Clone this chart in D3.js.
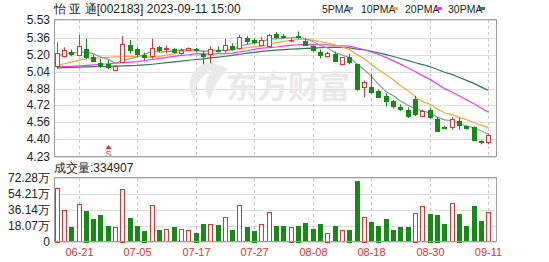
<!DOCTYPE html>
<html>
<head>
<meta charset="utf-8">
<script src="https://cdn.jsdelivr.net/npm/d3@7/dist/d3.min.js"></script>
<style>
body{margin:0;background:#fff}
svg{display:block}
text{font-family:"Liberation Sans",Arial,sans-serif}
</style>
</head>
<body>
<svg id="chart" width="549" height="262"></svg>
<script>
// trading days shown
const dates = ["06-16","06-19","06-20","06-21","06-26","06-27","06-28","06-29","06-30","07-03",
  "07-04","07-05","07-06","07-07","07-10","07-11","07-12","07-13","07-14","07-17",
  "07-18","07-19","07-20","07-21","07-24","07-25","07-26","07-27","07-28","07-31",
  "08-01","08-02","08-03","08-04","08-07","08-08","08-09","08-10","08-11","08-14",
  "08-15","08-16","08-17","08-18","08-21","08-22","08-23","08-24","08-25","08-28",
  "08-29","08-30","08-31","09-01","09-04","09-05","09-06","09-07","09-08","09-11"]

const open = [5.10,5.19,5.222,5.197,5.254,5.175,5.118,5.109,5.059,5.128,
  5.29,5.254,5.197,5.184,5.275,5.25,5.254,5.213,5.24,5.254,
  5.207,5.207,5.25,5.238,5.285,5.27,5.357,5.34,5.295,5.285,
  5.40,5.375,5.34,5.375,5.33,5.285,5.222,5.188,5.207,5.11,
  5.181,5.11,4.892,4.892,4.86,4.81,4.757,4.705,4.679,4.78,
  4.625,4.679,4.594,4.515,4.515,4.572,4.52,4.51,4.38,4.374]
const high = [5.316,5.27,5.25,5.39,5.35,5.20,5.16,5.15,5.10,5.38,
  5.34,5.27,5.22,5.354,5.285,5.29,5.265,5.26,5.27,5.265,
  5.24,5.28,5.28,5.35,5.31,5.39,5.38,5.36,5.37,5.40,
  5.415,5.40,5.36,5.42,5.35,5.29,5.25,5.23,5.23,5.18,
  5.21,5.11,4.955,5.02,4.87,4.836,4.77,4.73,4.70,4.81,
  4.68,4.70,4.61,4.525,4.61,4.60,4.53,4.52,4.39,4.453]
const low = [5.066,5.175,5.185,5.197,5.16,5.13,5.075,5.06,5.055,5.12,
  5.21,5.18,5.15,5.165,5.225,5.215,5.21,5.20,5.235,5.225,
  5.11,5.12,5.22,5.22,5.24,5.25,5.30,5.30,5.28,5.27,
  5.35,5.35,5.32,5.35,5.285,5.23,5.165,5.175,5.135,5.10,
  5.11,4.86,4.80,4.83,4.79,4.71,4.69,4.665,4.60,4.616,
  4.61,4.59,4.47,4.495,4.49,4.49,4.49,4.38,4.35,4.35]
const close = [5.22,5.245,5.20,5.285,5.175,5.137,5.103,5.08,5.097,5.30,
  5.238,5.207,5.175,5.263,5.244,5.26,5.228,5.245,5.26,5.24,
  5.188,5.254,5.245,5.29,5.254,5.373,5.326,5.323,5.34,5.386,
  5.373,5.37,5.34,5.37,5.295,5.245,5.19,5.219,5.144,5.175,
  5.137,4.877,4.94,4.845,4.80,4.767,4.71,4.688,4.625,4.64,
  4.67,4.61,4.484,4.51,4.594,4.531,4.50,4.39,4.368,4.437]

// volume in 万 shares, and its colour (1 = red)
const volume = [61.4,35.7,16.1,42.5,34.9,25.2,29.7,17.6,16.1,60.3,
  26.3,17.6,12.2,41.0,13.0,13.8,16.1,13.8,13.0,10.0,
  19.8,19.8,18.7,27.4,13.0,41.0,16.1,12.2,19.8,33.4,
  17.6,17.6,16.8,17.9,21.0,14.2,19.8,10.0,17.6,13.0,
  13.4,68.5,28.1,22.1,17.9,25.2,13.0,16.1,16.1,32.6,
  39.9,31.5,30.4,19.8,43.3,31.5,17.6,40.2,23.2,33.49]
const volUp = [1,1,0,1,0,0,0,0,1,1, 0,0,0,1,0,1,0,1,1,0, 0,1,0,1,0,1,0,0,1,1,
  0,0,1,0,0,0,0,1,0,1, 0,0,1,0,0,0,0,0,0,1, 1,0,0,0,1,0,0,0,0,1]

const ma5 = [5.19,5.21,5.215,5.225,5.225,5.208,5.18,5.156,5.118,5.143,
  5.164,5.184,5.203,5.237,5.225,5.23,5.234,5.248,5.247,5.247,
  5.232,5.237,5.237,5.243,5.246,5.283,5.298,5.313,5.323,5.35,
  5.35,5.358,5.362,5.368,5.35,5.324,5.288,5.264,5.219,5.195,
  5.173,5.11,5.055,4.995,4.92,4.846,4.812,4.762,4.718,4.686,
  4.667,4.647,4.606,4.583,4.574,4.546,4.524,4.505,4.477,4.445]
const ma10 = [5.10,5.115,5.13,5.15,5.16,5.165,5.17,5.175,5.18,5.184,
  5.186,5.182,5.18,5.178,5.184,5.197,5.209,5.226,5.242,5.236,
  5.231,5.236,5.243,5.245,5.246,5.258,5.268,5.275,5.283,5.298,
  5.316,5.328,5.338,5.346,5.35,5.337,5.323,5.313,5.293,5.272,
  5.249,5.199,5.159,5.107,5.057,5.009,4.961,4.908,4.856,4.803,
  4.756,4.73,4.684,4.65,4.63,4.606,4.585,4.555,4.53,4.509]
const ma20 = [5.085,5.088,5.09,5.095,5.10,5.105,5.11,5.115,5.12,5.125,
  5.13,5.135,5.145,5.155,5.165,5.175,5.185,5.195,5.20,5.21,
  5.209,5.209,5.211,5.211,5.215,5.227,5.238,5.251,5.263,5.267,
  5.274,5.282,5.29,5.295,5.298,5.297,5.295,5.294,5.288,5.285,
  5.282,5.264,5.248,5.226,5.203,5.173,5.142,5.111,5.075,5.038,
  5.002,4.964,4.922,4.879,4.844,4.808,4.773,4.732,4.693,4.656]
const ma30 = [5.075,5.078,5.08,5.083,5.085,5.087,5.089,5.09,5.092,5.095,
  5.098,5.10,5.105,5.11,5.117,5.125,5.133,5.14,5.148,5.155,
  5.162,5.17,5.178,5.186,5.195,5.205,5.215,5.223,5.232,5.239,
  5.245,5.249,5.253,5.256,5.26,5.264,5.267,5.271,5.273,5.269,
  5.265,5.254,5.246,5.233,5.218,5.201,5.184,5.165,5.144,5.124,
  5.107,5.086,5.06,5.034,5.012,4.984,4.957,4.926,4.893,4.861]

const priceTicks = ["5.53","5.36","5.20","5.04","4.88","4.72","4.56","4.40","4.23"]
const volTicks = [0,18.07,36.14,54.21,72.28]
const dateTicks = ["06-21","07-05","07-17","07-27","08-08","08-18","08-30","09-11"]
const maNames = ["5PMA","10PMA","20PMA","30PMA"]

const red = '#e4312b', green = '#158a15', grid = '#dedede'
const maColors = ['#9494ac','#f2a93b','#f23af2','#2f7a4f']
const left = 54, right = 496

const svg = d3.select('#chart')

const x = d3.scaleBand().domain(dates).range([left, 490.8]).paddingInner(0.3)
const cx = d => Math.round(x(d) + x.bandwidth()/2) + 0.5
const y = d3.scaleLinear().domain([4.23,5.53]).range([157,20])
const yv = d3.scaleLinear().domain([0,72.28]).range([241.5,178])

const data = dates.map((d,i) => ({date:d, o:open[i], h:high[i], l:low[i], c:close[i], v:volume[i], vu:volUp[i]}))

// title and legend
svg.append('text')
  .attr('x',left).attr('y',13)
  .attr('fill','#222')
  .style('font-size','12px')
  .text('怡 亚 通[002183] 2023-09-11 15:00')

const legendX = [322,361,405,448]
const legend = svg.selectAll('g.legend')
  .data(maNames)
  .enter()
  .append('g')
  .attr('class','legend')
legend.append('text')
  .attr('x',(d,i) => legendX[i]).attr('y',13)
  .attr('fill','#222')
  .style('font-size','10.5px')
  .text(d => d)
legend.append('rect')
  .attr('x',(d,i) => legendX[i] + (i ? 31 : 25)).attr('y',7)
  .attr('width',6).attr('height',3)
  .attr('fill',(d,i) => maColors[i])

// price panel grid
svg.selectAll('line.hgrid')
  .data(priceTicks)
  .enter()
  .append('line')
  .attr('class','hgrid')
  .attr('x1',left).attr('x2',right)
  .attr('y1',d => Math.round(y(+d))+0.5).attr('y2',d => Math.round(y(+d))+0.5)
  .attr('stroke',grid)

svg.selectAll('line.vgrid')
  .data(dateTicks)
  .enter()
  .append('line')
  .attr('class','vgrid')
  .attr('x1',cx).attr('x2',cx)
  .attr('y1',20).attr('y2',157)
  .attr('stroke','#c8c8c8')
  .attr('stroke-dasharray','3,3')

svg.selectAll('text.ptick')
  .data(priceTicks)
  .enter()
  .append('text')
  .attr('class','ptick')
  .attr('x',50).attr('y',d => y(+d)+4)
  .attr('text-anchor','end')
  .attr('fill','#222')
  .style('font-size','12px')
  .text(d => d)

// watermark
const wm = svg.append('g').attr('fill','#e9e9e9')
wm.append('path')
  .attr('d','M205,63 C189,71 185,88 195,100 C193,88 199,78 212,69 C205,80 203,91 210,100 C214,86 220,76 229,69 C221,65 213,63 205,63Z')
wm.append('text')
  .attr('x',226).attr('y',98)
  .style('font-family','"Noto Sans CJK SC",sans-serif')
  .style('font-size','31px')
  .style('font-weight','bold')
  .text('东方财富')

// moving averages
const maLine = d3.line().x((d,i) => cx(dates[i])).y(d => y(d))
svg.selectAll('path.ma')
  .data([ma30,ma20,ma10,ma5])
  .enter()
  .append('path')
  .attr('class','ma')
  .attr('d',maLine)
  .attr('fill','none')
  .attr('stroke',(d,i) => maColors[3-i])
  .attr('stroke-width',1.2)

// candles
const bw = Math.round(x.bandwidth())
const candle = svg.selectAll('g.candle')
  .data(data)
  .enter()
  .append('g')
  .attr('class','candle')

candle.append('line')
  .attr('x1',d => cx(d.date)).attr('x2',d => cx(d.date))
  .attr('y1',d => y(d.h)).attr('y2',d => y(d.l))
  .attr('stroke',d => d.c >= d.o ? red : green)

candle.append('rect')
  .attr('x',d => cx(d.date) - bw/2 + 0.5)
  .attr('y',d => Math.round(y(Math.max(d.o,d.c))) + 0.5)
  .attr('width',bw-1)
  .attr('height',d => Math.max(0.5, Math.round(Math.abs(y(d.o)-y(d.c)))))
  .attr('fill',d => d.c >= d.o ? '#fff' : green)
  .attr('stroke',d => d.c >= d.o ? red : green)

// S marker
const sIdx = 7
svg.append('path')
  .attr('d',`M${cx(dates[sIdx])},145 l-3,4 h6 Z`)
  .attr('fill',red)
svg.append('text')
  .attr('x',cx(dates[sIdx])).attr('y',157)
  .attr('text-anchor','middle')
  .attr('fill',red)
  .style('font-size','9px')
  .text('S')

svg.append('rect')
  .attr('x',left+0.5).attr('y',19.5)
  .attr('width',right-left).attr('height',137)
  .attr('fill','none').attr('stroke','#a0a0a0')

// volume panel
svg.append('text')
  .attr('x',left).attr('y',172)
  .attr('fill','#222')
  .style('font-size','12px')
  .text('成交量:334907')

svg.selectAll('line.vhgrid')
  .data(volTicks)
  .enter()
  .append('line')
  .attr('class','vhgrid')
  .attr('x1',left).attr('x2',right)
  .attr('y1',d => Math.round(yv(d))+0.5).attr('y2',d => Math.round(yv(d))+0.5)
  .attr('stroke',grid)

svg.selectAll('line.vvgrid')
  .data(dateTicks)
  .enter()
  .append('line')
  .attr('class','vvgrid')
  .attr('x1',cx).attr('x2',cx)
  .attr('y1',178).attr('y2',241)
  .attr('stroke','#c8c8c8')
  .attr('stroke-dasharray','3,3')

svg.selectAll('text.vtick')
  .data(volTicks)
  .enter()
  .append('text')
  .attr('class','vtick')
  .attr('x',50).attr('y',d => yv(d)+4)
  .attr('text-anchor','end')
  .attr('fill','#222')
  .style('font-size','12px')
  .text(d => d === 0 ? '0' : d.toFixed(2) + '万')

svg.selectAll('rect.vol')
  .data(data)
  .enter()
  .append('rect')
  .attr('class','vol')
  .attr('x',d => cx(d.date) - bw/2 + 0.5)
  .attr('y',d => Math.round(yv(d.v)) + 0.5)
  .attr('width',bw-1)
  .attr('height',d => Math.round(yv(0) - yv(d.v)))
  .attr('fill',d => d.vu ? '#fff' : green)
  .attr('stroke',d => d.vu ? red : green)

svg.append('rect')
  .attr('x',left+0.5).attr('y',177.5)
  .attr('width',right-left).attr('height',64)
  .attr('fill','none').attr('stroke','#a0a0a0')

svg.selectAll('text.xtick')
  .data(dateTicks)
  .enter()
  .append('text')
  .attr('class','xtick')
  .attr('x',cx).attr('y',256)
  .attr('text-anchor','middle')
  .attr('fill',red)
  .style('font-size','11px')
  .text(d => d)
</script>
</body>
</html>
